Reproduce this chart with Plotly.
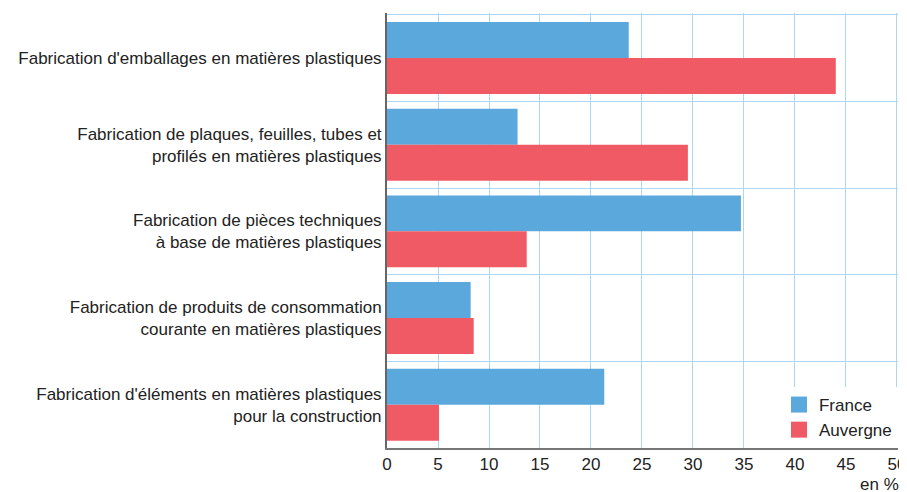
import plotly.graph_objects as go

categories = [
    "Fabrication d'emballages en matières plastiques",
    "Fabrication de plaques, feuilles, tubes et<br>profilés en matières plastiques",
    "Fabrication de pièces techniques<br>à base de matières plastiques",
    "Fabrication de produits de consommation<br>courante en matières plastiques",
    "Fabrication d'éléments en matières plastiques<br>pour la construction",
]
series_names = ["France", "Auvergne"]
france = [23.7, 12.8, 34.7, 8.2, 21.3]
auvergne = [44.0, 29.5, 13.7, 8.5, 5.1]
x_ticks = [0, 5, 10, 15, 20, 25, 30, 35, 40, 45, 50]

pos = list(range(len(categories)))
FONT = "Liberation Sans, Arial, sans-serif"
FS = 17
COLORS = ["#5ba8dc", "#f05a64"]

fig = go.Figure()
for name, vals, col in zip(series_names, [france, auvergne], COLORS):
    fig.add_trace(go.Bar(y=pos, x=vals, orientation="h", name=name,
                         showlegend=False,
                         marker=dict(color=col, line=dict(width=0))))
for name, col in zip(series_names, COLORS):
    fig.add_trace(go.Scatter(x=[None], y=[None], mode="markers", name=name,
                             marker=dict(symbol="square", size=16, color=col)))

fig.update_layout(
    width=899, height=484,
    margin=dict(l=379, r=9, t=5, b=44, autoexpand=False),
    paper_bgcolor="white", plot_bgcolor="white",
    barmode="group", bargap=0.17, bargroupgap=0,
    font=dict(family=FONT, size=FS, color="#222222"),
    showlegend=True,
    legend=dict(x=0.998, y=0.0, xanchor="right", yanchor="bottom",
                bgcolor="white", borderwidth=0, itemwidth=30,
                font=dict(size=FS), tracegroupgap=0),
    xaxis=dict(range=[0, 50.1], tickvals=x_ticks, showgrid=True,
               gridcolor="#acd6f2", gridwidth=1, zeroline=False,
               showline=True, linecolor="#777777", linewidth=1.5,
               ticks="", tickfont=dict(size=FS), automargin=False,
               ticklabeloverflow="allow"),
    yaxis=dict(range=[4.5, -0.52], tickvals=pos, ticktext=categories,
               showgrid=False, zeroline=False,
               showline=True, linecolor="#666666", linewidth=2,
               ticks="", tickfont=dict(size=FS), automargin=False,
               minor=dict(tick0=0.5, dtick=1, showgrid=True,
                          gridcolor="#acd6f2", gridwidth=1, ticks="")),
)
fig.add_annotation(text="en %", xref="paper", yref="paper", x=1.005, y=-0.085,
                   xanchor="right", yanchor="middle", showarrow=False,
                   font=dict(size=FS, color="#222222"))
fig.write_html("out.html")
